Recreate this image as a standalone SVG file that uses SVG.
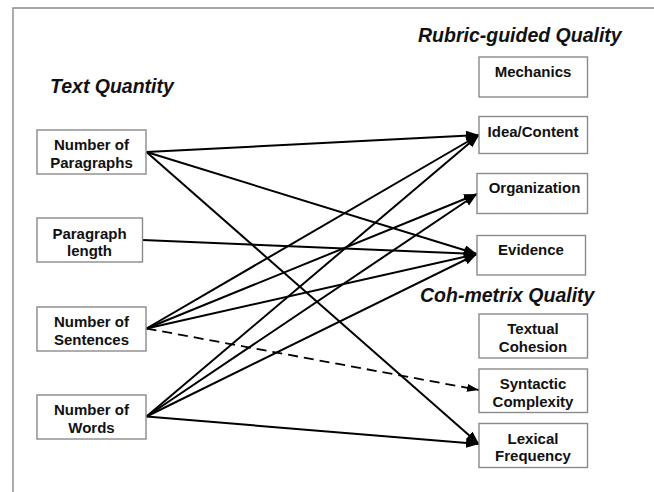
<svg xmlns="http://www.w3.org/2000/svg" width="654" height="492" viewBox="0 0 654 492">
  <style>
    .box { fill: #fff; stroke: #8a8a8a; stroke-width: 1.4; }
    .lbl { font-family: "Liberation Sans", Arial, sans-serif; font-weight: bold; font-size: 15px; fill: #111; text-anchor: middle; }
    .title { font-family: "Liberation Sans", Arial, sans-serif; font-weight: bold; font-style: italic; font-size: 19.5px; fill: #111; }
    .edge { stroke: #000; stroke-width: 2; fill: none; marker-end: url(#head); }
    .dash { stroke: #000; stroke-width: 1.8; fill: none; stroke-dasharray: 10 6; marker-end: url(#headSmall); }
  </style>
  <defs>
    <marker id="head" markerUnits="userSpaceOnUse" markerWidth="14" markerHeight="11" refX="13" refY="5" orient="auto">
      <path d="M0,0 L13,5 L0,10 z" fill="#000"/>
    </marker>
    <marker id="headSmall" markerUnits="userSpaceOnUse" markerWidth="13" markerHeight="9" refX="12" refY="4" orient="auto">
      <path d="M0,0 L12,4 L0,8 z" fill="#000"/>
    </marker>
  </defs>

  <!-- frame -->
  <path d="M13,492 L13,8 L654,8" fill="none" stroke="#8a8a8a" stroke-width="1.4"/>

  <!-- section titles -->
  <text class="title" x="50" y="93">Text Quantity</text>
  <text class="title" x="418" y="42">Rubric-guided Quality</text>
  <text class="title" x="420" y="302">Coh-metrix Quality</text>

  <!-- connectors -->
  <g id="connectors">
    <line class="edge" x1="146.5" y1="152" x2="479" y2="135"/>
    <line class="edge" x1="146.5" y1="152" x2="477" y2="254"/>
    <line class="edge" x1="146.5" y1="152" x2="479" y2="444"/>
    <line class="edge" x1="142.5" y1="240" x2="477" y2="254"/>
    <line class="edge" x1="146.5" y1="328.5" x2="479" y2="135"/>
    <line class="edge" x1="146.5" y1="328.5" x2="477" y2="194"/>
    <line class="edge" x1="146.5" y1="328.5" x2="477" y2="254"/>
    <line class="dash" x1="146.5" y1="328.5" x2="479" y2="390"/>
    <line class="edge" x1="146.5" y1="416.5" x2="479" y2="135"/>
    <line class="edge" x1="146.5" y1="416.5" x2="477" y2="194"/>
    <line class="edge" x1="146.5" y1="416.5" x2="477" y2="254"/>
    <line class="edge" x1="146.5" y1="416.5" x2="479" y2="444"/>
  </g>

  <!-- text quantity measures -->
  <g id="num-paragraphs">
    <rect class="box" x="37" y="130" width="109" height="44"/>
    <text class="lbl" x="91.5" y="150">Number of</text>
    <text class="lbl" x="91.5" y="167.5">Paragraphs</text>
  </g>
  <g id="paragraph-length">
    <rect class="box" x="37" y="218" width="105.5" height="44"/>
    <text class="lbl" x="89.5" y="238.5">Paragraph</text>
    <text class="lbl" x="89.5" y="256">length</text>
  </g>
  <g id="num-sentences">
    <rect class="box" x="37" y="307" width="109" height="44"/>
    <text class="lbl" x="91.5" y="327">Number of</text>
    <text class="lbl" x="91.5" y="344.5">Sentences</text>
  </g>
  <g id="num-words">
    <rect class="box" x="37" y="395" width="109" height="44"/>
    <text class="lbl" x="91.5" y="414.5">Number of</text>
    <text class="lbl" x="91.5" y="432.5">Words</text>
  </g>

  <!-- rubric-guided quality -->
  <g id="mechanics">
    <rect class="box" x="479" y="57" width="108.5" height="40"/>
    <text class="lbl" x="533" y="77">Mechanics</text>
  </g>
  <g id="idea-content">
    <rect class="box" x="479" y="116.5" width="108.5" height="37"/>
    <text class="lbl" x="533" y="137">Idea/Content</text>
  </g>
  <g id="organization">
    <rect class="box" x="477" y="173.5" width="110.5" height="40"/>
    <text class="lbl" x="534.5" y="192.5">Organization</text>
  </g>
  <g id="evidence">
    <rect class="box" x="477" y="235.5" width="108.5" height="39.5"/>
    <text class="lbl" x="531" y="255">Evidence</text>
  </g>

  <!-- coh-metrix quality -->
  <g id="textual-cohesion">
    <rect class="box" x="479" y="314" width="108.5" height="44"/>
    <text class="lbl" x="533" y="334">Textual</text>
    <text class="lbl" x="533" y="352">Cohesion</text>
  </g>
  <g id="syntactic-complexity">
    <rect class="box" x="479" y="369" width="108.5" height="43.5"/>
    <text class="lbl" x="533" y="389">Syntactic</text>
    <text class="lbl" x="533" y="407">Complexity</text>
  </g>
  <g id="lexical-frequency">
    <rect class="box" x="479" y="423.5" width="108.5" height="44"/>
    <text class="lbl" x="533" y="443.5">Lexical</text>
    <text class="lbl" x="533" y="461">Frequency</text>
  </g>
</svg>
